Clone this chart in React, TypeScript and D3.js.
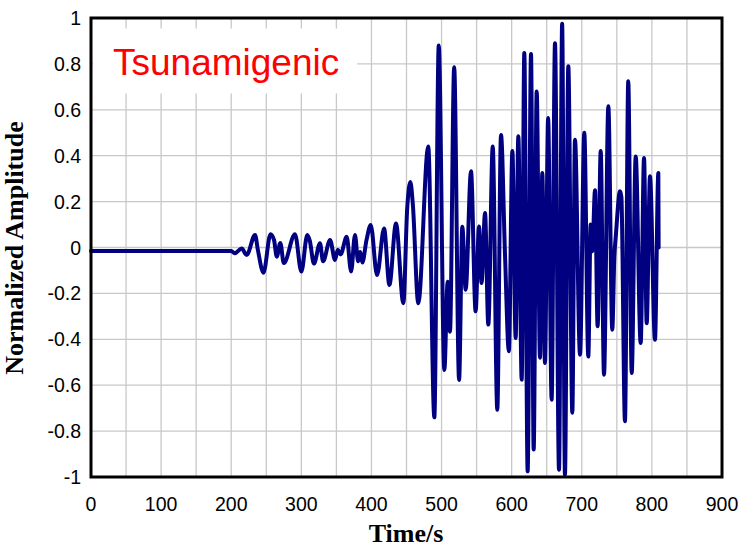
import React from "react";
import * as d3 from "d3";

const times: number[] = [
  0, 200, 205, 215, 222, 234, 238, 246, 256, 261, 265, 270, 275, 291, 300, 308.5, 312, 318, 326.6, 331,
  341, 348, 352, 356, 364.7, 371, 376.5, 381, 384, 387, 393, 399, 408, 418, 425.6, 435, 445.5, 451, 455.5, 459,
  466.8, 481, 489.7, 496, 504, 508.7, 512, 518, 525, 529.6, 534.4, 542, 548.6, 553.4, 557, 562, 566.7, 573, 579.5, 584.8,
  590.5, 596, 601, 605.7, 609.5, 614.3, 618, 622.8, 627.6, 631.4, 635.7, 640.4, 643.7, 647.5, 652, 657, 661.8, 667.5, 672, 676,
  680.8, 686.5, 690.3, 697.5, 703.6, 709.3, 712.7, 715, 718.9, 722.6, 727, 731.7, 737.9, 743.5, 746.4, 748.8, 754.5, 756.5, 761.6, 766.3,
  771.2, 776.9, 784, 788.8, 792.6, 797.3, 804.4, 809.2, 809.6,
];

const amplitudes: number[] = [
  -0.015, -0.015, -0.025, -0.004, -0.033, 0.055, -0.01, -0.11, 0.058, 0.033, -0.04, 0.02, -0.068, 0.058, -0.105, 0.054, 0.03, -0.07, 0.019, -0.06,
  0.033, -0.054, -0.01, -0.03, 0.047, -0.105, 0.054, -0.06, -0.02, -0.065, 0.033, 0.098, -0.12, 0.083, -0.163, 0.105, -0.243, 0.17, 0.285, 0.19,
  -0.243, 0.44, -0.74, 0.88, -0.534, -0.149, -0.367, 0.785, -0.577, 0.09, -0.184, 0.332, -0.278, 0.092, -0.155, 0.15, -0.336, 0.44, -0.707, 0.49,
  -0.03, -0.452, 0.42, -0.394, 0.485, -0.576, 0.847, -0.975, 0.843, -0.88, 0.68, -0.48, 0.325, -0.503, 0.564, -0.663, 0.89, -0.968, 0.975, -0.99,
  0.79, -0.72, 0.47, -0.467, 0.5, -0.475, 0.1, -0.016, 0.25, -0.343, 0.42, -0.554, 0.615, -0.358, -0.045, 0.06, 0.245, 0.22, -0.757, 0.724,
  -0.547, 0.397, -0.416, 0.39, -0.33, 0.31, -0.402, 0.325, 0.0,
];

const xTicks: number[] = [0, 100, 200, 300, 400, 500, 600, 700, 800, 900];
const yTicks: number[] = [-1, -0.8, -0.6, -0.4, -0.2, 0, 0.2, 0.4, 0.6, 0.8, 1];
const xGrid: number[] = [50, 100, 150, 200, 250, 300, 350, 400, 450, 500, 550, 600, 650, 700, 750, 800, 850];
const yGrid: number[] = [-0.8, -0.6, -0.4, -0.2, 0, 0.2, 0.4, 0.6, 0.8];

const title = "Tsunamigenic";
const xLabel = "Time/s";
const yLabel = "Normalized Amplitude";

export default function App() {
  const W = 747, H = 548;
  const left = 91, right = 722, top = 18, bottom = 477;
  const x = d3.scaleLinear().domain([0, 900]).range([left, right]);
  const y = d3.scaleLinear().domain([-1, 1]).range([bottom, top]);
  const data = times.map((t, i) => [t, amplitudes[i]] as [number, number]);
  const line = d3
    .line<[number, number]>()
    .x((d) => x(d[0]))
    .y((d) => y(d[1]))
    .curve(d3.curveMonotoneX);

  const fmt = (v: number) => (Math.abs(v) < 1e-9 ? "0" : String(+v.toFixed(1)));

  return (
    <svg
      width={W}
      height={H}
      style={{ position: "absolute", left: 0, top: 0, display: "block", background: "#fff" }}
    >
      <rect x={0} y={0} width={W} height={H} fill="#fff" />
      <g stroke="#c8c8c8" strokeWidth={1.3}>
        {xGrid.map((g) => (
          <line key={"xg" + g} x1={x(g)} x2={x(g)} y1={top} y2={bottom} />
        ))}
        {yGrid.map((g) => (
          <line key={"yg" + g} x1={left} x2={right} y1={y(g)} y2={y(g)} />
        ))}
      </g>
      <rect x={left + 2} y={28.5} width={264} height={65} fill="#fff" />
      <text
        x={113}
        y={75}
        fill="#ff0000"
        fontFamily="'Liberation Sans', Arial, sans-serif"
        fontSize={37}
      >
        {title}
      </text>
      <path d={line(data) || ""} fill="none" stroke="#000080" strokeWidth={4} strokeLinejoin="round" strokeLinecap="round" />
      <rect x={left} y={top} width={right - left} height={bottom - top} fill="none" stroke="#000" strokeWidth={3} />
      <g fontFamily="'Liberation Sans', Arial, sans-serif" fontSize={19.5} fill="#000">
        {yTicks.map((t) => (
          <text key={"yt" + t} x={81} y={y(t) + 7} textAnchor="end">
            {fmt(t)}
          </text>
        ))}
        {xTicks.map((t) => (
          <text key={"xt" + t} x={x(t)} y={511} textAnchor="middle">
            {fmt(t)}
          </text>
        ))}
      </g>
      <text
        x={406}
        y={542}
        textAnchor="middle"
        fontFamily="'Liberation Serif', 'Times New Roman', serif"
        fontWeight="bold"
        fontSize={26}
      >
        {xLabel}
      </text>
      <text
        transform={`translate(23,${248}) rotate(-90)`}
        textAnchor="middle"
        fontFamily="'Liberation Serif', 'Times New Roman', serif"
        fontWeight="bold"
        fontSize={26}
      >
        {yLabel}
      </text>
    </svg>
  );
}
